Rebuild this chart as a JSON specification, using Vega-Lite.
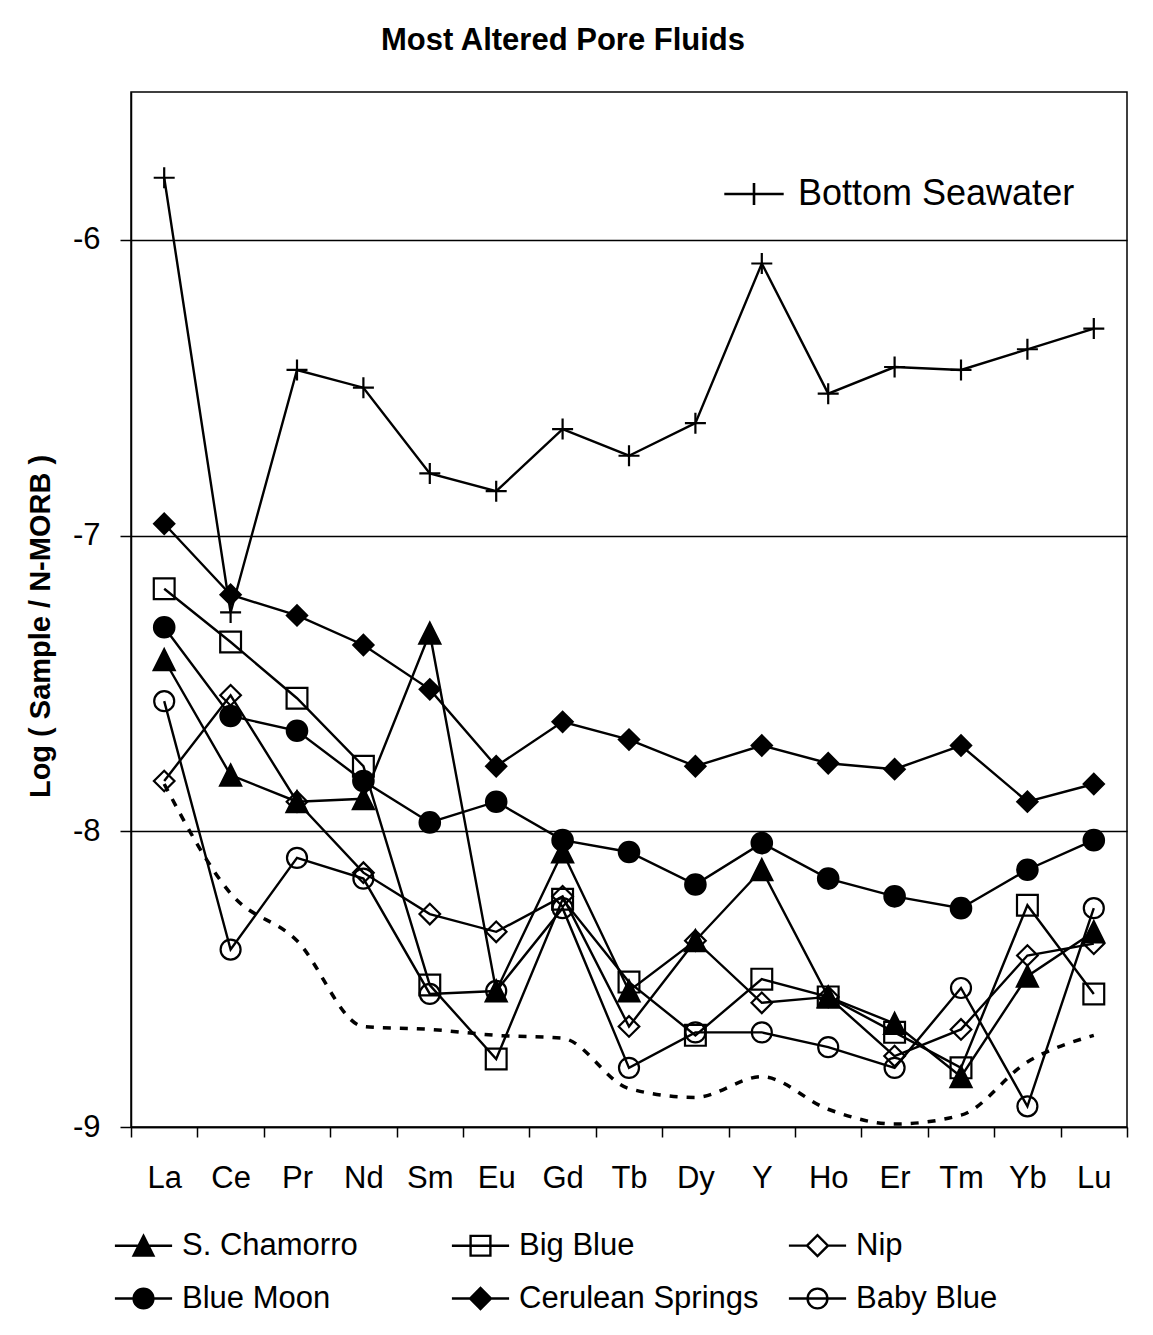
{
  "$schema": "https://vega.github.io/schema/vega-lite/v6.json",
  "width": 996,
  "height": 1035,
  "autosize": {"type": "none"},
  "padding": {"left": 131, "top": 92, "right": 26, "bottom": 208},
  "background": "white",
  "title": {
    "text": "Most Altered Pore Fluids",
    "anchor": "middle",
    "frame": "group",
    "dx": -66,
    "offset": 11,
    "baseline": "alphabetic",
    "font": "Liberation Sans",
    "fontSize": 31,
    "fontWeight": "bold",
    "color": "black"
  },
  "data": {
    "values": [
      {"series": "Bottom Seawater", "element": "La", "value": -5.79},
      {"series": "Bottom Seawater", "element": "Ce", "value": -7.26},
      {"series": "Bottom Seawater", "element": "Pr", "value": -6.44},
      {"series": "Bottom Seawater", "element": "Nd", "value": -6.5},
      {"series": "Bottom Seawater", "element": "Sm", "value": -6.79},
      {"series": "Bottom Seawater", "element": "Eu", "value": -6.85},
      {"series": "Bottom Seawater", "element": "Gd", "value": -6.64},
      {"series": "Bottom Seawater", "element": "Tb", "value": -6.73},
      {"series": "Bottom Seawater", "element": "Dy", "value": -6.62},
      {"series": "Bottom Seawater", "element": "Y", "value": -6.08},
      {"series": "Bottom Seawater", "element": "Ho", "value": -6.52},
      {"series": "Bottom Seawater", "element": "Er", "value": -6.43},
      {"series": "Bottom Seawater", "element": "Tm", "value": -6.44},
      {"series": "Bottom Seawater", "element": "Yb", "value": -6.37},
      {"series": "Bottom Seawater", "element": "Lu", "value": -6.3},

      {"series": "Cerulean Springs", "element": "La", "value": -6.96},
      {"series": "Cerulean Springs", "element": "Ce", "value": -7.2},
      {"series": "Cerulean Springs", "element": "Pr", "value": -7.27},
      {"series": "Cerulean Springs", "element": "Nd", "value": -7.37},
      {"series": "Cerulean Springs", "element": "Sm", "value": -7.52},
      {"series": "Cerulean Springs", "element": "Eu", "value": -7.78},
      {"series": "Cerulean Springs", "element": "Gd", "value": -7.63},
      {"series": "Cerulean Springs", "element": "Tb", "value": -7.69},
      {"series": "Cerulean Springs", "element": "Dy", "value": -7.78},
      {"series": "Cerulean Springs", "element": "Y", "value": -7.71},
      {"series": "Cerulean Springs", "element": "Ho", "value": -7.77},
      {"series": "Cerulean Springs", "element": "Er", "value": -7.79},
      {"series": "Cerulean Springs", "element": "Tm", "value": -7.71},
      {"series": "Cerulean Springs", "element": "Yb", "value": -7.9},
      {"series": "Cerulean Springs", "element": "Lu", "value": -7.84},

      {"series": "Blue Moon", "element": "La", "value": -7.31},
      {"series": "Blue Moon", "element": "Ce", "value": -7.61},
      {"series": "Blue Moon", "element": "Pr", "value": -7.66},
      {"series": "Blue Moon", "element": "Nd", "value": -7.83},
      {"series": "Blue Moon", "element": "Sm", "value": -7.97},
      {"series": "Blue Moon", "element": "Eu", "value": -7.9},
      {"series": "Blue Moon", "element": "Gd", "value": -8.03},
      {"series": "Blue Moon", "element": "Tb", "value": -8.07},
      {"series": "Blue Moon", "element": "Dy", "value": -8.18},
      {"series": "Blue Moon", "element": "Y", "value": -8.04},
      {"series": "Blue Moon", "element": "Ho", "value": -8.16},
      {"series": "Blue Moon", "element": "Er", "value": -8.22},
      {"series": "Blue Moon", "element": "Tm", "value": -8.26},
      {"series": "Blue Moon", "element": "Yb", "value": -8.13},
      {"series": "Blue Moon", "element": "Lu", "value": -8.03},

      {"series": "S. Chamorro", "element": "La", "value": -7.42},
      {"series": "S. Chamorro", "element": "Ce", "value": -7.81},
      {"series": "S. Chamorro", "element": "Pr", "value": -7.9},
      {"series": "S. Chamorro", "element": "Nd", "value": -7.89},
      {"series": "S. Chamorro", "element": "Sm", "value": -7.33},
      {"series": "S. Chamorro", "element": "Eu", "value": -8.54},
      {"series": "S. Chamorro", "element": "Gd", "value": -8.07},
      {"series": "S. Chamorro", "element": "Tb", "value": -8.54},
      {"series": "S. Chamorro", "element": "Dy", "value": -8.37},
      {"series": "S. Chamorro", "element": "Y", "value": -8.13},
      {"series": "S. Chamorro", "element": "Ho", "value": -8.56},
      {"series": "S. Chamorro", "element": "Er", "value": -8.65},
      {"series": "S. Chamorro", "element": "Tm", "value": -8.83},
      {"series": "S. Chamorro", "element": "Yb", "value": -8.49},
      {"series": "S. Chamorro", "element": "Lu", "value": -8.34},

      {"series": "Big Blue", "element": "La", "value": -7.18},
      {"series": "Big Blue", "element": "Ce", "value": -7.36},
      {"series": "Big Blue", "element": "Pr", "value": -7.55},
      {"series": "Big Blue", "element": "Nd", "value": -7.78},
      {"series": "Big Blue", "element": "Sm", "value": -8.52},
      {"series": "Big Blue", "element": "Eu", "value": -8.77},
      {"series": "Big Blue", "element": "Gd", "value": -8.23},
      {"series": "Big Blue", "element": "Tb", "value": -8.51},
      {"series": "Big Blue", "element": "Dy", "value": -8.69},
      {"series": "Big Blue", "element": "Y", "value": -8.5},
      {"series": "Big Blue", "element": "Ho", "value": -8.56},
      {"series": "Big Blue", "element": "Er", "value": -8.68},
      {"series": "Big Blue", "element": "Tm", "value": -8.8},
      {"series": "Big Blue", "element": "Yb", "value": -8.25},
      {"series": "Big Blue", "element": "Lu", "value": -8.55},

      {"series": "Nip", "element": "La", "value": -7.83},
      {"series": "Nip", "element": "Ce", "value": -7.54},
      {"series": "Nip", "element": "Pr", "value": -7.9},
      {"series": "Nip", "element": "Nd", "value": -8.14},
      {"series": "Nip", "element": "Sm", "value": -8.28},
      {"series": "Nip", "element": "Eu", "value": -8.34},
      {"series": "Nip", "element": "Gd", "value": -8.22},
      {"series": "Nip", "element": "Tb", "value": -8.66},
      {"series": "Nip", "element": "Dy", "value": -8.37},
      {"series": "Nip", "element": "Y", "value": -8.58},
      {"series": "Nip", "element": "Ho", "value": -8.56},
      {"series": "Nip", "element": "Er", "value": -8.76},
      {"series": "Nip", "element": "Tm", "value": -8.67},
      {"series": "Nip", "element": "Yb", "value": -8.42},
      {"series": "Nip", "element": "Lu", "value": -8.38},

      {"series": "Baby Blue", "element": "La", "value": -7.56},
      {"series": "Baby Blue", "element": "Ce", "value": -8.4},
      {"series": "Baby Blue", "element": "Pr", "value": -8.09},
      {"series": "Baby Blue", "element": "Nd", "value": -8.16},
      {"series": "Baby Blue", "element": "Sm", "value": -8.55},
      {"series": "Baby Blue", "element": "Eu", "value": -8.54},
      {"series": "Baby Blue", "element": "Gd", "value": -8.26},
      {"series": "Baby Blue", "element": "Tb", "value": -8.8},
      {"series": "Baby Blue", "element": "Dy", "value": -8.68},
      {"series": "Baby Blue", "element": "Y", "value": -8.68},
      {"series": "Baby Blue", "element": "Ho", "value": -8.73},
      {"series": "Baby Blue", "element": "Er", "value": -8.8},
      {"series": "Baby Blue", "element": "Tm", "value": -8.53},
      {"series": "Baby Blue", "element": "Yb", "value": -8.93},
      {"series": "Baby Blue", "element": "Lu", "value": -8.26},

      {"series": "Lower envelope", "element": "La", "value": -7.84},
      {"series": "Lower envelope", "element": "Ce", "value": -8.21},
      {"series": "Lower envelope", "element": "Pr", "value": -8.37},
      {"series": "Lower envelope", "element": "Nd", "value": -8.66},
      {"series": "Lower envelope", "element": "Sm", "value": -8.67},
      {"series": "Lower envelope", "element": "Eu", "value": -8.69},
      {"series": "Lower envelope", "element": "Gd", "value": -8.7},
      {"series": "Lower envelope", "element": "Tb", "value": -8.87},
      {"series": "Lower envelope", "element": "Dy", "value": -8.9},
      {"series": "Lower envelope", "element": "Y", "value": -8.83},
      {"series": "Lower envelope", "element": "Ho", "value": -8.94},
      {"series": "Lower envelope", "element": "Er", "value": -8.99},
      {"series": "Lower envelope", "element": "Tm", "value": -8.96},
      {"series": "Lower envelope", "element": "Yb", "value": -8.78},
      {"series": "Lower envelope", "element": "Lu", "value": -8.69}
    ]
  },
  "encoding": {
    "x": {
      "field": "element",
      "type": "ordinal",
      "sort": ["La", "Ce", "Pr", "Nd", "Sm", "Eu", "Gd", "Tb", "Dy", "Y", "Ho", "Er", "Tm", "Yb", "Lu"],
      "scale": {"type": "band", "paddingInner": 0, "paddingOuter": 0},
      "axis": {
        "title": null,
        "labelAngle": 0,
        "tickBand": "extent",
        "tickSize": 10,
        "tickWidth": 1.5,
        "tickColor": "black",
        "domainColor": "black",
        "domainWidth": 1.5,
        "labelFont": "Liberation Sans",
        "labelFontSize": 31,
        "labelColor": "black",
        "labelPadding": 26,
        "grid": false
      }
    },
    "y": {
      "field": "value",
      "type": "quantitative",
      "scale": {"domain": [-9, -5.5], "nice": false, "zero": false},
      "axis": {
        "title": "Log ( Sample / N-MORB )",
        "titleFont": "Liberation Sans",
        "titleFontSize": 29,
        "titleFontWeight": "bold",
        "titleColor": "black",
        "titleX": -76,
        "titleY": 534,
        "values": [-9, -8, -7, -6],
        "labelExpr": "'' + datum.value",
        "tickSize": 11,
        "tickWidth": 1.5,
        "tickColor": "black",
        "domainColor": "black",
        "domainWidth": 1.5,
        "labelFont": "Liberation Sans",
        "labelFontSize": 31,
        "labelColor": "black",
        "labelPadding": 20,
        "grid": true,
        "gridColor": "black",
        "gridWidth": 1.5,
        "gridOpacity": 1
      }
    },
    "order": {"value": null}
  },
  "layer": [
    {
      "transform": [{"filter": "datum.series !== 'Lower envelope'"}],
      "mark": {"type": "line", "color": "black", "strokeWidth": 2.4},
      "encoding": {"detail": {"field": "series", "type": "nominal"}}
    },
    {
      "transform": [{"filter": "datum.series === 'Lower envelope'"}],
      "mark": {"type": "line", "color": "black", "strokeWidth": 3.5, "strokeDash": [8, 9], "interpolate": "monotone"},
      "encoding": {}
    },
    {
      "transform": [{"filter": {"field": "series", "oneOf": ["S. Chamorro", "Big Blue", "Nip", "Blue Moon", "Cerulean Springs", "Baby Blue"]}}],
      "mark": {"type": "point", "filled": true, "opacity": 1, "stroke": "black", "strokeWidth": 2.2},
      "encoding": {
        "shape": {
          "field": "series",
          "type": "nominal",
          "scale": {
            "domain": ["S. Chamorro", "Big Blue", "Nip", "Blue Moon", "Cerulean Springs", "Baby Blue"],
            "range": ["M0,-1L1,1L-1,1Z", "square", "diamond", "circle", "diamond", "circle"]
          },
          "legend": null
        },
        "fill": {
          "field": "series",
          "type": "nominal",
          "scale": {
            "domain": ["S. Chamorro", "Big Blue", "Nip", "Blue Moon", "Cerulean Springs", "Baby Blue"],
            "range": ["black", "transparent", "transparent", "black", "black", "transparent"]
          },
          "legend": null
        },
        "size": {
          "field": "series",
          "type": "nominal",
          "scale": {
            "domain": ["S. Chamorro", "Big Blue", "Nip", "Blue Moon", "Cerulean Springs", "Baby Blue"],
            "range": [441, 400, 361, 484, 484, 400]
          },
          "legend": null
        }
      }
    },
    {
      "transform": [{"filter": "datum.series === 'Bottom Seawater'"}],
      "mark": {"type": "point", "shape": "M-1,0H1M0,-1V1", "filled": false, "size": 441, "strokeWidth": 2.2, "opacity": 1},
      "encoding": {
        "stroke": {
          "field": "series",
          "type": "nominal",
          "scale": {"domain": ["Bottom Seawater"], "range": ["black"]},
          "legend": {
            "orient": "none",
            "legendX": 605,
            "legendY": 84,
            "title": null,
            "padding": 0,
            "symbolType": "M-2.7,0H2.7M0,-1V1",
            "symbolSize": 484,
            "symbolStrokeWidth": 2.6,
            "symbolFillColor": "transparent",
            "symbolOpacity": 1,
            "labelFont": "Liberation Sans",
            "labelFontSize": 36,
            "labelColor": "black",
            "labelOffset": 26,
            "labelLimit": 0
          }
        }
      }
    },
    {
      "transform": [{"filter": "false"}],
      "mark": {"type": "point", "filled": true, "opacity": 1, "strokeWidth": 2.4, "size": 484},
      "encoding": {
        "shape": {
          "field": "series",
          "type": "nominal",
          "scale": {
            "domain": ["S. Chamorro", "Big Blue", "Nip", "Blue Moon", "Cerulean Springs", "Baby Blue"],
            "range": [
              "M-2.6,0H2.6M0,-0.9L0.9,0.9H-0.9Z",
              "M-2.6,0H2.6M-0.9,-0.9H0.9V0.9H-0.9Z",
              "M-2.6,0H-0.95M0.95,0H2.6M-0.95,0L0,-0.95L0.95,0L0,0.95Z",
              "M-2.6,0H2.6M-0.9,0A0.9,0.9 0 1,0 0.9,0A0.9,0.9 0 1,0 -0.9,0Z",
              "M-2.6,0H2.6M-0.95,0L0,-0.95L0.95,0L0,0.95Z",
              "M-2.6,0H2.6M-0.9,0A0.9,0.9 0 1,0 0.9,0A0.9,0.9 0 1,0 -0.9,0Z"
            ]
          },
          "legend": {
            "orient": "none",
            "legendX": -3,
            "legendY": 1138,
            "direction": "horizontal",
            "columns": 3,
            "gridAlign": "all",
            "columnPadding": 25,
            "rowPadding": 21,
            "padding": 0,
            "title": null,
            "symbolSize": 484,
            "symbolStrokeWidth": 2.4,
            "symbolOpacity": 1,
            "labelFont": "Liberation Sans",
            "labelFontSize": 31,
            "labelColor": "black",
            "labelOffset": 23,
            "labelLimit": 0
          }
        },
        "fill": {
          "field": "series",
          "type": "nominal",
          "scale": {
            "domain": ["S. Chamorro", "Big Blue", "Nip", "Blue Moon", "Cerulean Springs", "Baby Blue"],
            "range": ["black", "transparent", "transparent", "black", "black", "transparent"]
          },
          "legend": {
            "orient": "none",
            "legendX": -3,
            "legendY": 1138,
            "direction": "horizontal",
            "columns": 3,
            "gridAlign": "all",
            "columnPadding": 25,
            "rowPadding": 21,
            "padding": 0,
            "title": null,
            "symbolSize": 484,
            "symbolStrokeWidth": 2.4,
            "symbolOpacity": 1,
            "labelFont": "Liberation Sans",
            "labelFontSize": 31,
            "labelColor": "black",
            "labelOffset": 23,
            "labelLimit": 0
          }
        },
        "stroke": {
          "field": "series",
          "type": "nominal",
          "scale": {
            "domain": ["S. Chamorro", "Big Blue", "Nip", "Blue Moon", "Cerulean Springs", "Baby Blue"],
            "range": ["black", "black", "black", "black", "black", "black"]
          },
          "legend": {
            "orient": "none",
            "legendX": -3,
            "legendY": 1138,
            "direction": "horizontal",
            "columns": 3,
            "gridAlign": "all",
            "columnPadding": 25,
            "rowPadding": 21,
            "padding": 0,
            "title": null,
            "symbolSize": 484,
            "symbolStrokeWidth": 2.4,
            "symbolOpacity": 1,
            "labelFont": "Liberation Sans",
            "labelFontSize": 31,
            "labelColor": "black",
            "labelOffset": 23,
            "labelLimit": 0
          }
        }
      }
    }
  ],
  "resolve": {"scale": {"shape": "independent", "fill": "independent", "size": "independent", "stroke": "independent"}},
  "config": {
    "view": {"stroke": "black", "strokeWidth": 1.5}
  }
}
